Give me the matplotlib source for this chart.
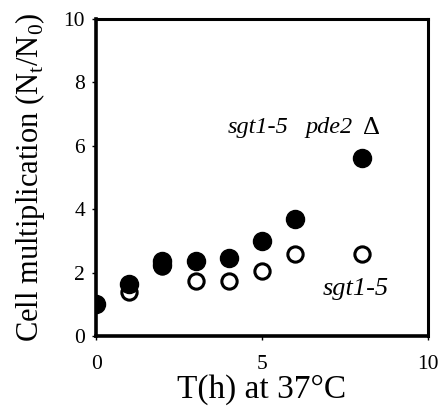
import matplotlib
matplotlib.use("Agg")
import matplotlib.pyplot as plt

hours_pde2 = [0, 1, 2, 2, 3, 4, 5, 6, 8]
ratio_pde2 = [1.0, 1.65, 2.25, 2.38, 2.35, 2.45, 3.0, 3.7, 5.6]

hours_sgt1 = [1, 2, 3, 4, 5, 6, 8]
ratio_sgt1 = [1.4, 2.2, 1.72, 1.72, 2.05, 2.6, 2.6]

x_ticks = [0, 5, 10]
y_ticks = [0, 2, 4, 6, 8, 10]

plt.rcParams["font.family"] = ["Liberation Serif", "DejaVu Serif"]
plt.rcParams["mathtext.fontset"] = "custom"
plt.rcParams["mathtext.rm"] = "Liberation Serif"

fig = plt.figure(figsize=(4.43, 4.19), dpi=100, facecolor="white")
ax = fig.add_axes([0.217, 0.198, 0.749, 0.757])

ax.plot(hours_sgt1, ratio_sgt1, linestyle="none", marker="o", markersize=11,
        markerfacecolor="white", markeredgecolor="black", markeredgewidth=2.2, zorder=3)
ax.plot(hours_pde2, ratio_pde2, linestyle="none", marker="o", markersize=13,
        markerfacecolor="black", markeredgecolor="black", zorder=4)

# strain labels
ax.text(3.98, 6.56, "sgt1-5", fontsize=17.5, fontstyle="italic", va="center", ha="left")
ax.text(6.3, 6.56, "pde2", fontsize=17.5, fontstyle="italic", va="center", ha="left")
ax.text(8.05, 6.56, "\u0394", fontsize=19, va="center", ha="left")
ax.text(6.84, 1.48, "sgt1-5", fontsize=19, fontstyle="italic", va="center", ha="left")

ax.set_xlim(0, 10)
ax.set_ylim(0, 10)
ax.set_xticks(x_ticks)
ax.set_yticks(y_ticks)
ax.tick_params(labelsize=15.5, length=3, width=1, direction="out")
ax.tick_params(axis="x", pad=11)
ax.tick_params(axis="y", pad=5)

for spine in ax.spines.values():
    spine.set_linewidth(2.2)
ax.spines["left"].set_linewidth(2.6)
ax.spines["bottom"].set_linewidth(2.6)

ax.set_xlabel("T(h) at 37\u00b0C", fontsize=24, labelpad=0)
ax.set_ylabel("Cell multiplication (N$_\\mathrm{t}$/N$_\\mathrm{0}$)", fontsize=22, labelpad=12)

fig.savefig("out.png", dpi=100, facecolor="white")
